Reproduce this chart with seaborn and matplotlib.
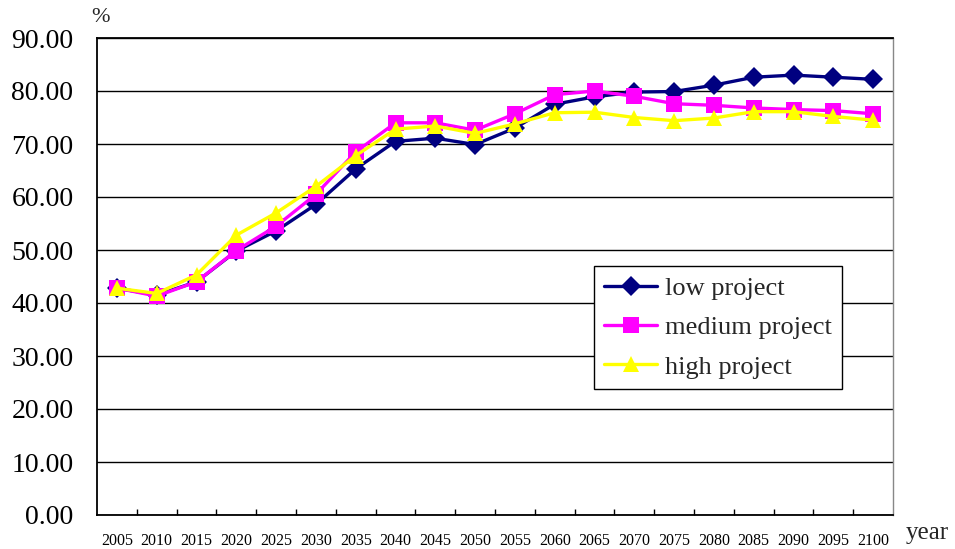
import numpy as np
import pandas as pd
import matplotlib
matplotlib.use("Agg")
import matplotlib.pyplot as plt
from matplotlib.ticker import MultipleLocator, FixedLocator
import seaborn as sns

years = ["2005", "2010", "2015", "2020", "2025", "2030", "2035", "2040", "2045", "2050",
         "2055", "2060", "2065", "2070", "2075", "2080", "2085", "2090", "2095", "2100"]

low_project = [42.8, 41.5, 44.0, 49.8, 53.6, 58.6, 65.3, 70.5, 71.1, 69.9,
               73.0, 77.5, 78.9, 79.8, 79.9, 81.1, 82.6, 83.0, 82.6, 82.2]
medium_project = [42.8, 41.3, 44.0, 49.9, 54.5, 60.5, 68.5, 74.0, 74.0, 72.6,
                  75.7, 79.3, 80.0, 79.0, 77.6, 77.3, 76.8, 76.5, 76.3, 75.7]
high_project = [42.8, 41.8, 45.3, 52.8, 57.0, 62.0, 67.8, 72.8, 73.4, 72.0,
                73.8, 75.9, 76.0, 75.0, 74.4, 74.9, 76.1, 76.1, 75.2, 74.5]

series_names = ["low project", "medium project", "high project"]
series_colors = ["#000080", "#FF00FF", "#FFFF00"]
series_markers = ["D", "s", "^"]

df = pd.DataFrame({
    "pos": np.tile(np.arange(len(years)), 3),
    "value": low_project + medium_project + high_project,
    "series": np.repeat(series_names, len(years)),
})

sns.set_theme(style="white")
plt.rcParams["font.family"] = ["Liberation Serif", "DejaVu Serif"]

fig = plt.figure(figsize=(9.55, 5.49), dpi=100)
ax = fig.add_axes([97 / 955, 1 - 515 / 549, (893 - 97) / 955, (515 - 38) / 549])

sns.lineplot(
    data=df, x="pos", y="value", hue="series", style="series",
    hue_order=series_names, style_order=series_names,
    palette=dict(zip(series_names, series_colors)),
    markers=dict(zip(series_names, series_markers)),
    dashes=False, linewidth=2.4, markersize=11, markeredgewidth=0,
    ax=ax, legend=True,
)
# diamond markers are drawn a touch smaller than squares and triangles
for line in ax.get_lines():
    if line.get_marker() == "D":
        line.set_markersize(10)

ax.set_xlim(-0.5, len(years) - 0.5)
ax.set_ylim(0, 90)
ax.yaxis.set_major_locator(MultipleLocator(10))
ax.set_yticklabels([f"{v:.2f}" for v in ax.get_yticks()])
ax.set_xticks(np.arange(len(years)))
ax.set_xticklabels(years)
ax.xaxis.set_minor_locator(FixedLocator(np.arange(0.5, len(years) - 1, 1)))

ax.grid(axis="y", color="black", linewidth=1.0)
ax.grid(axis="x", visible=False)
ax.set_axisbelow(True)

ax.tick_params(axis="y", which="major", length=0, pad=17, labelsize=20, labelcolor="black")
ax.tick_params(axis="x", which="major", length=0, pad=13, labelsize=11.5, labelcolor="black")
ax.tick_params(axis="x", which="minor", direction="in", length=4, width=1, color="black", bottom=True)

for side in ["left", "bottom", "top"]:
    ax.spines[side].set_color("black")
    ax.spines[side].set_linewidth(1.3)
ax.spines["right"].set_color("#888888")
ax.spines["right"].set_linewidth(1.0)

ax.set_xlabel("")
ax.set_ylabel("")

fig.text(100 / 955, 1 - 18 / 549, "%", fontsize=16, ha="center", va="center")
fig.text(927 / 955, 1 - 533 / 549, "year", fontsize=18, ha="center", va="center")

handles, labels = ax.get_legend_handles_labels()
leg = ax.legend(
    handles, labels, loc="upper left", bbox_to_anchor=(0.624, 0.522),
    frameon=True, fancybox=False, edgecolor="black", framealpha=1,
    fontsize=19, handlelength=2.0, handletextpad=0.3, borderpad=0.4,
    labelspacing=0.6, borderaxespad=0,
)
leg.get_frame().set_linewidth(1.0)

fig.savefig("out.png", dpi=100, facecolor="white")
